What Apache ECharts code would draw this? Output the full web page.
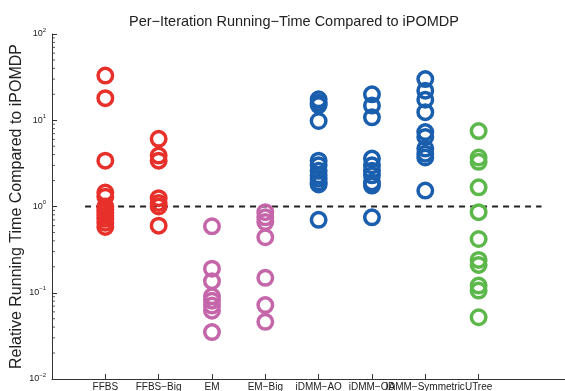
<!DOCTYPE html>
<html><head><meta charset="utf-8">
<script src="https://cdn.jsdelivr.net/npm/echarts@6/dist/echarts.min.js"></script>
<style>html,body{margin:0;padding:0;background:#fff}#c{width:565px;height:391px}</style>
</head><body><div id="c"></div>
<script>
var categories = ['FFBS','FFBS\u2212Big','EM','EM\u2212Big','iDMM\u2212AO','iDMM\u2212OA','iDMM\u2212Symmetric','UTree'];
var ffbs = [33, 18, 3.4, 1.45, 1.3, 1.0, 0.92, 0.85, 0.78, 0.72, 0.65, 0.58];
var ffbsBig = [6.1, 3.9, 3.4, 1.25, 1.1, 1.0, 0.6];
var em = [0.59, 0.19, 0.136, 0.091, 0.081, 0.071, 0.062, 0.035];
var emBig = [0.86, 0.75, 0.66, 0.44, 0.149, 0.072, 0.046];
var idmmAO = [17.5, 16, 15, 9.8, 3.4, 3.0, 2.6, 2.3, 2.1, 1.9, 1.8, 0.7];
var idmmOA = [20, 14.8, 10.8, 3.6, 3.0, 2.6, 2.3, 1.9, 1.75, 0.75];
var idmmSym = [30, 22, 17.3, 12.4, 7.3, 6.4, 4.7, 4.1, 3.7, 1.53];
var utree = [7.5, 3.7, 3.3, 1.67, 0.86, 0.42, 0.24, 0.21, 0.121, 0.106, 0.052];
var refValue = 1;
var minorMult = [2,3,4,5,6,7,8,9];

var groups = [ffbs, ffbsBig, em, emBig, idmmAO, idmmOA, idmmSym, utree];
var colors = ['#e8302a','#e8302a','#c466a9','#c466a9','#1a5eae','#1a5eae','#1a5eae','#5cb84a'];

var series = groups.map(function(vals, i){
  return {
    type: 'scatter', name: categories[i],
    symbol: 'circle', symbolSize: 14.5,
    itemStyle: {color: 'rgba(0,0,0,0)', borderColor: colors[i], borderWidth: 3.5, opacity: 1},
    data: vals.map(function(v){ return [i+1, v]; }),
    z: 3
  };
});
var minorData = [];
[0.01, 0.1, 1, 10].forEach(function(d){ minorMult.forEach(function(m){ minorData.push([0, d*m]); }); });
series.push({
  type: 'scatter', name: 'minor', silent: true, clip: false,
  symbol: 'rect', symbolSize: [3, 1], symbolOffset: [1.5, 0],
  itemStyle: {color: '#333'}, data: minorData, z: 1
});
series.push({
  type: 'line', name: 'ref', silent: true, symbol: 'none',
  lineStyle: {color: '#222', type: [6, 5], width: 2},
  data: [[0.62, refValue], [9.18, refValue]], z: 2
});

var chart = echarts.init(document.getElementById('c'));
chart.setOption({
  animation: false,
  textStyle: {fontFamily: 'Liberation Sans, Arial, sans-serif'},
  title: {text: 'Per\u2212Iteration Running\u2212Time Compared to iPOMDP', left: 124, top: 9,
    textStyle: {fontSize: 14.5, fontWeight: 'normal', color: '#222'}},
  grid: {left: 52, top: 34, bottom: 12, width: 513, outerBoundsMode: 'none', containLabel: false},
  xAxis: {
    type: 'value', min: 0, max: 9.62,
    splitLine: {show: false},
    axisLine: {lineStyle: {color: '#333', width: 1}},
    axisTick: {inside: true, length: 5, customValues: [1,2,3,4,5,6,7,8], lineStyle: {color: '#333'}},
    axisLabel: {customValues: [1,2,3,4,5,6,7,8], margin: 3, fontSize: 10, color: '#222', hideOverlap: false,
      formatter: function(v){ return categories[Math.round(v)-1] || ''; }}
  },
  yAxis: {
    type: 'log', logBase: 10, min: 0.01, max: 100,
    name: 'Relative Running Time Compared to iPOMDP', nameLocation: 'middle', nameGap: 27,
    nameMoveOverlap: false,
    nameTextStyle: {fontSize: 16, color: '#222'},
    splitLine: {show: false},
    axisLine: {show: true, lineStyle: {color: '#333', width: 1}},
    axisTick: {inside: true, length: 5, lineStyle: {color: '#333'}},
    axisLabel: {margin: 6, color: '#222',
      formatter: function(v){ var e = Math.round(Math.log10(v)); return '{b|10}{s|' + String(e).replace('-', '\u2212') + '}'; },
      rich: {b: {fontSize: 9, color: '#222'}, s: {fontSize: 6, color: '#222', verticalAlign: 'top', padding: [0,0,8,0]}}}
  },
  series: series
});
</script></body></html>
